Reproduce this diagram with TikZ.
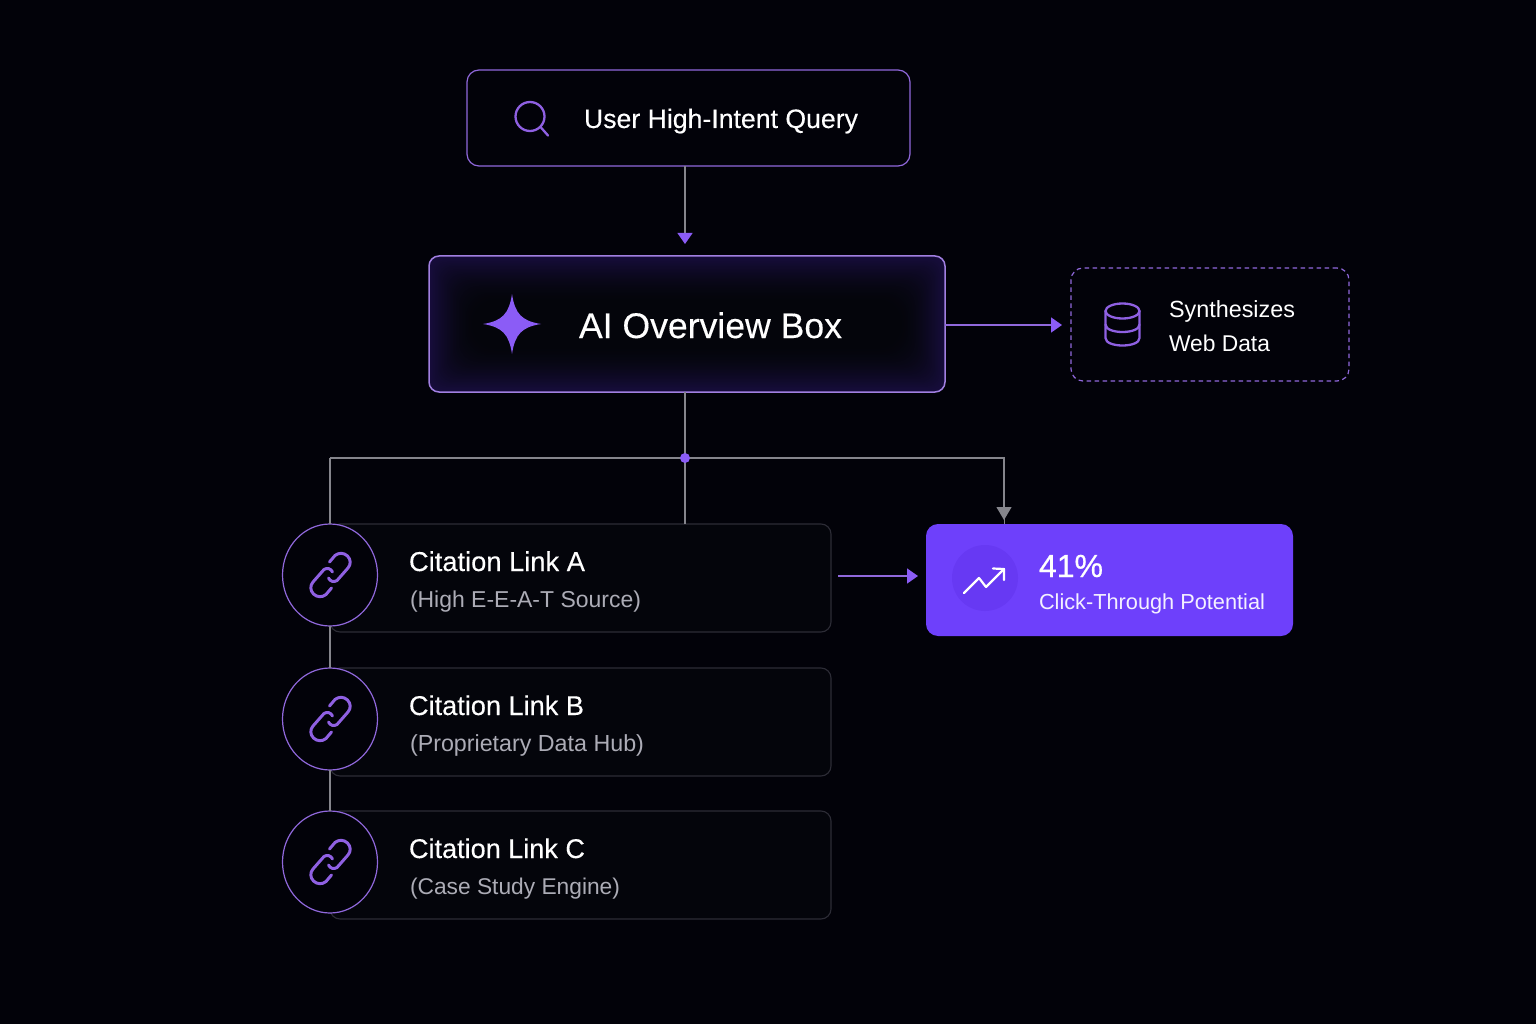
\documentclass[tikz,border=0pt]{standalone}
\usepackage{fontspec}
\setmainfont{Liberation Sans}
\newfontfamily\medf[FakeBold=0.25]{Liberation Sans}
\newfontfamily\semf[FakeBold=0.6]{Liberation Sans}
\usetikzlibrary{arrows.meta,shapes.geometric,calc}
\definecolor{bgc}{HTML}{020209}
\definecolor{vio}{HTML}{8B5CF6}
\definecolor{icv}{HTML}{8F60E2}
\definecolor{bord}{HTML}{9068DC}
\definecolor{wire}{HTML}{85858C}
\definecolor{cardb}{HTML}{2C2C36}
\definecolor{cardf}{HTML}{04050B}
\definecolor{subt}{HTML}{ACACB6}
\definecolor{pur}{HTML}{6E40FB}
\definecolor{purd}{HTML}{6739F3}
\definecolor{glow}{HTML}{170D3C}
\newsavebox{\fitbox}
\newcommand{\fitted}[2]{%
  \sbox{\fitbox}{\fontsize{20}{24}\selectfont #2}%
  \pgfmathsetmacro{\fitsize}{20*#1/\the\wd\fitbox}%
  \fontsize{\fitsize}{\fitsize}\selectfont #2}
\tikzset{
  x=1pt,y=-1pt,
  box/.style={rectangle,rounded corners=#1,inner sep=0pt,outer sep=0pt},
  querybox/.style={box=12pt,draw=bord,line width=1.2pt,fill=bgc},
  linkcard/.style={box=10pt,draw=cardb,line width=1.1pt,fill=cardf,minimum width=501pt,minimum height=108pt,anchor=north west},
  linkring/.style={ellipse,inner sep=0pt,outer sep=0pt,draw=bord,line width=1.2pt,fill=bgc,minimum width=95pt,minimum height=102pt,anchor=north},
  txt/.style={inner sep=0pt,outer sep=0pt,anchor=base west,text=white},
  wirel/.style={draw=wire,line width=1.2pt},
  purl/.style={draw=bord,line width=1.6pt},
  vtip/.style={-{Triangle[width=15pt,length=11pt,color=vio]}},
  icon/.style={draw=icv,line width=2.3pt,line cap=round,line join=round},
  linkic/.style={draw=icv,line width=3pt,line cap=round,line join=round},
}
\newcommand{\linkicon}[1]{%
  \begin{scope}[shift={(#1)}]
    \draw[linkic] (-1,-13) -- (4.5,-19.5) .. controls (8,-22.5) and (13.5,-22.5) .. (17,-19)
       .. controls (20.5,-15.5) and (20.5,-10.5) .. (17.5,-7) -- (6.5,5.5)
       .. controls (3.5,7.5) and (-0.5,6.5) .. (-2,3);
    \draw[linkic] (1,13) -- (-4.5,19.5) .. controls (-8,22.5) and (-13.5,22.5) .. (-17,19)
       .. controls (-20.5,15.5) and (-20.5,10.5) .. (-17.5,7) -- (-6.5,-5.5)
       .. controls (-3.5,-7.5) and (0.5,-6.5) .. (2,-3);
  \end{scope}}
\begin{document}
\begin{tikzpicture}
\useasboundingbox (0,0) rectangle (1536,1024);
\fill[bgc] (0,0) rectangle (1536,1024);

% layout anchors
\node[circle,minimum size=10pt,inner sep=0pt,outer sep=0pt] (hub) at (685,458) {};

% boxes
\node[querybox,minimum width=443pt,minimum height=96pt] (user) at (688.5,118) {};
\node[box=10pt,fill=glow,minimum width=516pt,minimum height=136pt] (ai) at (687,324) {};
\foreach \i in {1,...,30}{
  \pgfmathsetmacro{\mixv}{100*(1-\i/30)^1.6}
  \pgfmathsetmacro{\ww}{516-2*\i*1.5}
  \pgfmathsetmacro{\hh}{136-2*\i*1.5}
  \pgfmathsetmacro{\rr}{10+0.5*\i}
  \fill[glow!\mixv!cardf,rounded corners=\rr pt] (687-\ww/2,324-\hh/2) rectangle (687+\ww/2,324+\hh/2);
}
\node[box=10pt,draw=bord!85!white,line width=1.5pt,minimum width=516pt,minimum height=136pt] (aiframe) at (687,324) {};
\node[box=12pt,draw=bord,line width=1.2pt,dash pattern=on 4.5pt off 3.5pt,fill=bgc,minimum width=278pt,minimum height=113pt] (synth) at (1210,324.5) {};
\node[box=12pt,fill=pur,minimum width=367pt,minimum height=112pt] (ctr) at (1109.5,580) {};
\node[circle,fill=purd,minimum size=66pt,inner sep=0pt,outer sep=0pt] (ctrdisc) at (985,578) {};

% wires behind cards
\draw[wirel] (hub.center) -- (hub |- ai.south);
\coordinate (userarrow) at (hub |- ai.north);
\draw[wirel,vtip,shorten >=12pt] (hub |- user.south) -- (userarrow);
\coordinate (ctrtop) at (1004,524);
\draw[wirel] (hub.center) -- (330,458) coordinate (leftbus);
\draw[wirel,-{Triangle[width=15pt,length=13pt,color=wire]},shorten >=4pt] (hub.center) -- (1004,458) -- (ctrtop);
\draw[wire,line width=.6pt] (1004,518) -- (ctrtop);

% citation cards
\node[linkcard] (cardA) at (330,524) {};
\node[linkcard] (cardB) at (330,668) {};
\node[linkcard] (cardC) at (330,811) {};
\draw[wirel] (hub.center) -- (hub |- cardA.north);
\fill[vio] (hub.center) circle[radius=5];
\node[linkring] (ringA) at (330,524) {};
\node[linkring] (ringB) at (330,668) {};
\node[linkring] (ringC) at (330,811) {};
\draw[wirel] (leftbus) -- (ringA.north);
\draw[wirel] (ringA.south) -- (ringB.north);
\draw[wirel] (ringB.south) -- (ringC.north);

% violet arrows
\coordinate (aiarrow) at ($(synth.west)+(-9,0.5)$);
\draw[purl,vtip] (ai.east |- aiarrow) -- (aiarrow);
\coordinate (ctrstart) at (838,576);
\coordinate (ctrend) at (918,576);
\draw[purl,vtip] (ctrstart) -- (ctrend);

% icons
\draw[icon] (530,116.5) circle[radius=14.5];
\draw[icon] (540.5,127) -- (548,135.5);
\fill[vio] (512,294) .. controls (515,314) and (522,321) .. (541,324)
  .. controls (522,327) and (515,334) .. (512,354)
  .. controls (509,334) and (502,327) .. (483,324)
  .. controls (502,321) and (509,314) .. (512,294) -- cycle;
\draw[icon] (1122.5,311) ellipse[x radius=17,y radius=7.5];
\draw[icon] (1105.5,311) -- (1105.5,338) .. controls (1105.5,348) and (1139.5,348) .. (1139.5,338) -- (1139.5,311);
\draw[icon] (1105.5,324.5) .. controls (1105.5,334.5) and (1139.5,334.5) .. (1139.5,324.5);
\linkicon{330.5,575}
\linkicon{330.5,719}
\linkicon{330.5,862}
\draw[white,line width=2.2pt,line cap=round,line join=round] (964,593) -- (979,578) -- (986,587) -- (1004,569);
\draw[white,line width=2.2pt,line cap=round,line join=round] (993,568.5) -- (1004,569) -- (1004,580);

% text
\node[txt,font=\medf] (t1) at (584,128) {\fitted{274}{User High-Intent Query}};
\node[txt,font=\medf] (t2) at (579,338) {\fitted{263}{AI Overview Box}};
\node[txt] (t3) at (1169,317) {\fitted{126}{Synthesizes}};
\node[txt] (t4) at (1169,351) {\fitted{101}{Web Data}};
\node[txt,font=\medf] (headA) at (409,571) {\fitted{176}{Citation Link A}};
\node[txt,font=\medf] (headB) at (409,715) {\fitted{175}{Citation Link B}};
\node[txt,font=\medf] (headC) at (409,858) {\fitted{176}{Citation Link C}};
\node[txt,text=subt] (subA) at (410,607) {\fitted{231}{(High E-E-A-T Source)}};
\node[txt,text=subt] (subB) at (410,751) {\fitted{234}{(Proprietary Data Hub)}};
\node[txt,text=subt] (subC) at (410,894) {\fitted{210}{(Case Study Engine)}};
\node[txt,font=\semf] (pct) at (1039,577) {\fitted{64}{41\%}};
\node[txt,text=white!92!pur] (ctrtxt) at (1039,609) {\fitted{226}{Click-Through Potential}};
\end{tikzpicture}
\end{document}
